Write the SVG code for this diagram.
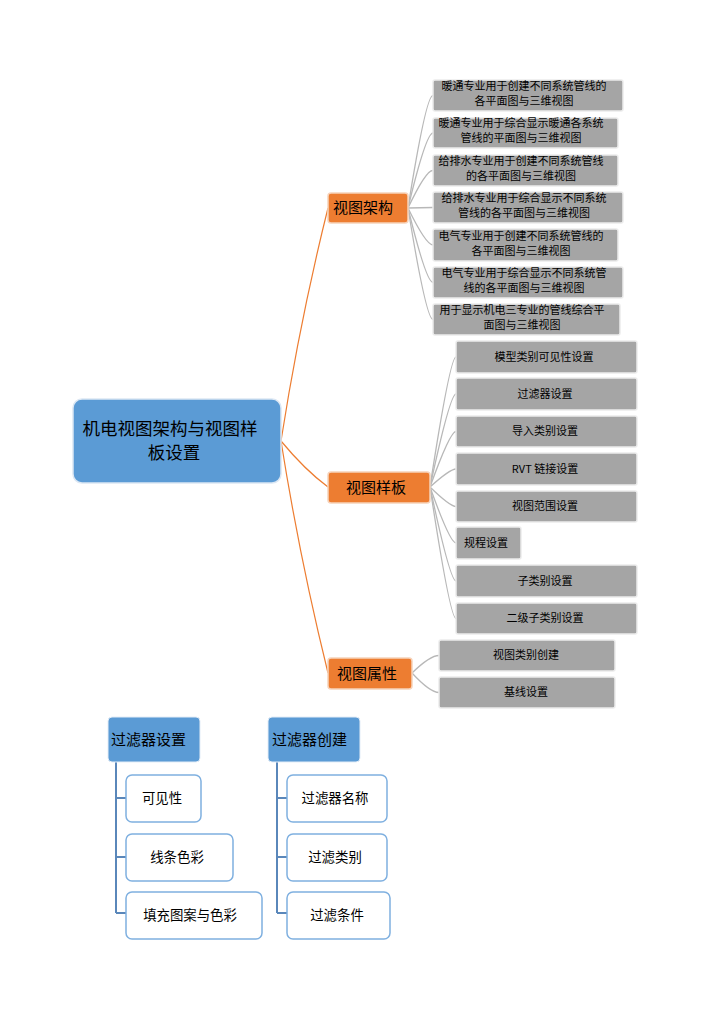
<svg xmlns="http://www.w3.org/2000/svg" width="723" height="1024" viewBox="0 0 723 1024">
<style>
text{font-family:"Noto Sans CJK SC","Liberation Sans",sans-serif;fill:#000}
.root{fill:#5B9BD5;stroke:#dce7f3;stroke-width:1.5}
.br{fill:#ED7D31;stroke:#f6d3bb;stroke-width:1.5}
.leaf{fill:#A5A5A5;stroke:#ececec;stroke-width:1.5}
.hd{fill:#5B9BD5;stroke:#e4edf7;stroke-width:1}
.ch{fill:#fff;stroke:#7fb0e0;stroke-width:1.5}
.t11{font-size:11px;text-anchor:middle}
.t15{font-size:15px}
.t13{font-size:13.4px;text-anchor:middle}
.oc{fill:none;stroke:#ED7D31;stroke-width:1.2}
.gc{fill:none;stroke:#b8b8b8;stroke-width:1.3}
.bc{fill:none;stroke:#5a87ba;stroke-width:2}
</style>
<rect width="723" height="1024" fill="#fff"/>
<g id="connectors">
<path class="oc" d="M281,441 Q300,320 328,208"/>
<path class="oc" d="M281,441 Q305,470 328,487"/>
<path class="oc" d="M281,441 Q300,560 328,673"/>
<path class="gc" d="M408,208 Q426,95 433,95.5"/>
<path class="gc" d="M408,208 Q426,133 433,133"/>
<path class="gc" d="M408,208 Q426,170 433,170.5"/>
<path class="gc" d="M408,208 L433,207.5"/>
<path class="gc" d="M408,208 Q426,245 433,245"/>
<path class="gc" d="M408,208 Q426,282 433,282.5"/>
<path class="gc" d="M408,208 Q426,319 433,319.5"/>
<path class="gc" d="M430,487 Q450,357 456,357"/>
<path class="gc" d="M430,487 Q450,394 456,394"/>
<path class="gc" d="M430,487 Q450,431.5 456,431.5"/>
<path class="gc" d="M430,487 Q450,469 456,469"/>
<path class="gc" d="M430,487 Q450,506.5 456,506.5"/>
<path class="gc" d="M430,487 Q450,543 456,543"/>
<path class="gc" d="M430,487 Q450,581 456,581"/>
<path class="gc" d="M430,487 Q450,618.5 456,618.5"/>
<path class="gc" d="M412,673 Q430,655.5 439,655.5"/>
<path class="gc" d="M412,673 Q430,692.5 439,692.5"/>
<path class="bc" d="M116,762 V913 M116,798 H126 M116,857 H126 M116,913 H126"/>
<path class="bc" d="M277,762 V913 M277,798 H287 M277,857 H287 M277,913 H287"/>
</g>
<g id="root">
<rect class="root" x="73" y="399" width="208" height="84" rx="9"/>
<text x="170" y="435" style="font-size:17.5px;text-anchor:middle">机电视图架构与视图样</text>
<text x="174" y="459" style="font-size:17.5px;text-anchor:middle">板设置</text>
</g>
<g id="n-jiagou">
<rect class="br" x="328" y="193" width="80" height="30" rx="3"/>
<text class="t15" x="333" y="213">视图架构</text>
</g>
<g id="n-yangban">
<rect class="br" x="328" y="472" width="102" height="31" rx="3"/>
<text class="t15" x="346" y="493">视图样板</text>
</g>
<g id="n-shuxing">
<rect class="br" x="328" y="658" width="84" height="31" rx="3"/>
<text class="t15" x="337" y="679">视图属性</text>
</g>
<g id="a1"><rect class="leaf" x="433" y="80" width="190" height="31" rx="2"/><text class="t11" x="524" y="90">暖通专业用于创建不同系统管线的</text><text class="t11" x="524" y="105">各平面图与三维视图</text></g>
<g id="a2"><rect class="leaf" x="433" y="118" width="185" height="30" rx="2"/><text class="t11" x="521" y="127">暖通专业用于综合显示暖通各系统</text><text class="t11" x="521" y="142">管线的平面图与三维视图</text></g>
<g id="a3"><rect class="leaf" x="433" y="155" width="185" height="31" rx="2"/><text class="t11" x="521" y="165">给排水专业用于创建不同系统管线</text><text class="t11" x="521" y="180">的各平面图与三维视图</text></g>
<g id="a4"><rect class="leaf" x="433" y="192" width="190" height="31" rx="2"/><text class="t11" x="524" y="202">给排水专业用于综合显示不同系统</text><text class="t11" x="524" y="217">管线的各平面图与三维视图</text></g>
<g id="a5"><rect class="leaf" x="433" y="229" width="185" height="32" rx="2"/><text class="t11" x="521" y="240">电气专业用于创建不同系统管线的</text><text class="t11" x="521" y="255">各平面图与三维视图</text></g>
<g id="a6"><rect class="leaf" x="433" y="267" width="190" height="31" rx="2"/><text class="t11" x="524" y="277">电气专业用于综合显示不同系统管</text><text class="t11" x="524" y="292">线的各平面图与三维视图</text></g>
<g id="a7"><rect class="leaf" x="433" y="304" width="187" height="31" rx="2"/><text class="t11" x="522" y="314">用于显示机电三专业的管线综合平</text><text class="t11" x="522" y="329">面图与三维视图</text></g>
<g id="b1"><rect class="leaf" x="456" y="341" width="181" height="32" rx="2"/><text class="t11" x="544" y="361">模型类别可见性设置</text></g>
<g id="b2"><rect class="leaf" x="456" y="378" width="181" height="32" rx="2"/><text class="t11" x="545" y="398">过滤器设置</text></g>
<g id="b3"><rect class="leaf" x="456" y="416" width="181" height="31" rx="2"/><text class="t11" x="545" y="435">导入类别设置</text></g>
<g id="b4"><rect class="leaf" x="456" y="453" width="181" height="32" rx="2"/><text class="t11" x="545" y="473">RVT 链接设置</text></g>
<g id="b5"><rect class="leaf" x="456" y="491" width="181" height="31" rx="2"/><text class="t11" x="545" y="510">视图范围设置</text></g>
<g id="b6"><rect class="leaf" x="456" y="527" width="65" height="32" rx="2"/><text class="t11" x="486" y="547">规程设置</text></g>
<g id="b7"><rect class="leaf" x="456" y="565" width="181" height="32" rx="2"/><text class="t11" x="545" y="585">子类别设置</text></g>
<g id="b8"><rect class="leaf" x="456" y="603" width="181" height="31" rx="2"/><text class="t11" x="545" y="622">二级子类别设置</text></g>
<g id="c1"><rect class="leaf" x="439" y="640" width="176" height="31" rx="2"/><text class="t11" x="526" y="659">视图类别创建</text></g>
<g id="c2"><rect class="leaf" x="439" y="677" width="176" height="31" rx="2"/><text class="t11" x="526" y="696">基线设置</text></g>
<g id="h1"><rect class="hd" x="108" y="717" width="92" height="45" rx="4"/><text class="t15" x="111" y="745">过滤器设置</text></g>
<g id="h2"><rect class="hd" x="268" y="717" width="92" height="45" rx="4"/><text class="t15" x="272" y="745">过滤器创建</text></g>
<g id="d1"><rect class="ch" x="126" y="775" width="75" height="47" rx="6"/><text class="t13" x="162" y="803">可见性</text></g>
<g id="d2"><rect class="ch" x="126" y="834" width="107" height="47" rx="6"/><text class="t13" x="177" y="862">线条色彩</text></g>
<g id="d3"><rect class="ch" x="126" y="892" width="136" height="47" rx="6"/><text class="t13" x="190" y="920">填充图案与色彩</text></g>
<g id="e1"><rect class="ch" x="287" y="775" width="100" height="47" rx="6"/><text class="t13" x="335" y="803">过滤器名称</text></g>
<g id="e2"><rect class="ch" x="287" y="834" width="100" height="47" rx="6"/><text class="t13" x="335" y="862">过滤类别</text></g>
<g id="e3"><rect class="ch" x="287" y="892" width="103" height="47" rx="6"/><text class="t13" x="337" y="920">过滤条件</text></g>
</svg>
